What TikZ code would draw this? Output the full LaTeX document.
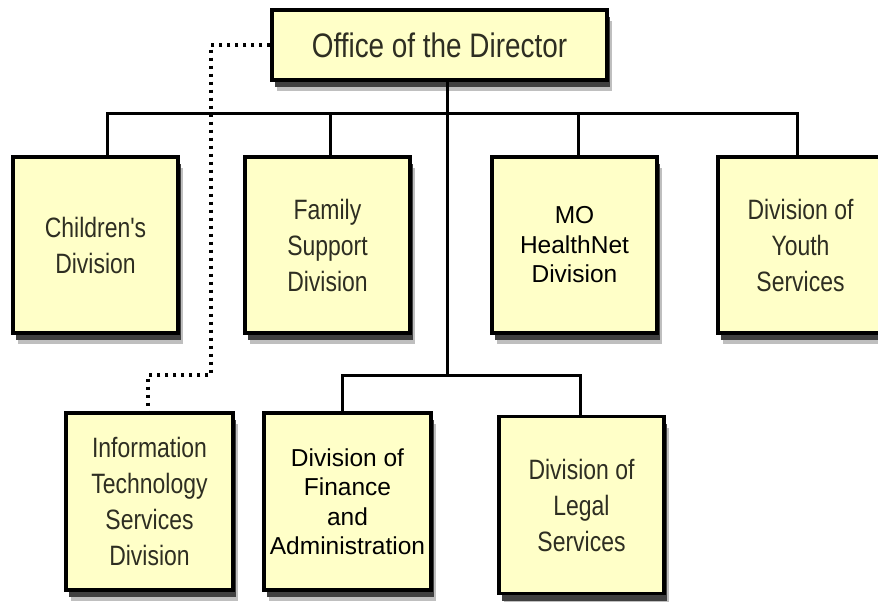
\documentclass[tikz,border=0pt]{standalone}
\usepackage{fontspec}
\setmainfont{Liberation Sans}
\newfontfamily\narrowfont{Liberation Sans}[FakeStretch=0.82]
\usepackage{xcolor}
\usetikzlibrary{positioning,shadows}

\definecolor{boxfill}{HTML}{FFFFC8}
\definecolor{boxtext}{HTML}{2E2E22}

\begin{document}
\begin{tikzpicture}[x=1pt,y=-1pt,
    unit/.style={draw=black, line width=3.2pt, fill=boxfill, inner sep=0pt, align=center,
      minimum width=165pt, minimum height=176pt,
      drop shadow={shadow xshift=5pt, shadow yshift=-11pt, fill=black!25, opacity=1},
      drop shadow={shadow xshift=3pt, shadow yshift=-7pt, fill=black!75, opacity=1}},
    light/.style={unit, font=\narrowfont\fontsize{28}{36}\selectfont, text=boxtext},
    dark/.style={unit, font=\fontsize{24.5}{29.5}\selectfont, text=black},
    conn/.style={line width=3pt, black},
    dots/.style={line width=3.3pt, black, dash pattern=on 3.3pt off 4.7pt}]
        \useasboundingbox (0,0) rectangle (878,602);
        % Director on top
        \node[light, minimum width=335pt, minimum height=70pt,
          font=\narrowfont\fontsize{34}{40}\selectfont] (DIR) at (439.5,45) {Office of the Director};
        % First row of divisions
        \node[light] (CD) at (95.5,245) {Children's\\Division};
        \node[light] (FSD) at (327.5,245) {Family\\Support\\Division};
        \node[dark] (MHD) at (574.5,245) {MO\\HealthNet\\Division};
        \node[light] (DYS) at (800.5,245) {Division of\\Youth\\Services};
        % Second row
        \node[light, minimum width=167pt, minimum height=177pt] (ITSD) at (149.5,501.5)
          {Information\\Technology\\Services\\Division};
        \node[dark, minimum width=167pt, minimum height=177pt] (DFA) at (347.5,501.5)
          {Division of\\Finance\\and\\Administration};
        \node[light, minimum height=177pt] (DLS) at (581.5,505) {Division of\\Legal\\Services};
        % Bars and drops
        \coordinate (TR) at (447,113);
        \coordinate (BR) at (447,375);
        \coordinate (DT) at (211,375);
        \draw[conn] (DIR.south -| TR) -- (BR);
        \draw[conn] ([xshift=11.5pt]CD.north) |- (TR) -| ([xshift=-3.5pt]DYS.north);
        \draw[conn] ([xshift=2.5pt]FSD.north) -- ([xshift=2.5pt]FSD.north |- TR);
        \draw[conn] ([xshift=3.5pt]MHD.north) -- ([xshift=3.5pt]MHD.north |- TR);
        \draw[conn] ([xshift=-5.5pt]DFA.north) |- (BR) -| ([xshift=-1.5pt]DLS.north);
        % Dotted staff line to IT
        \draw[dots] (DIR.west) -| (DT) -| ([xshift=-1.5pt]ITSD.north);
    \end{tikzpicture}
\end{document}
